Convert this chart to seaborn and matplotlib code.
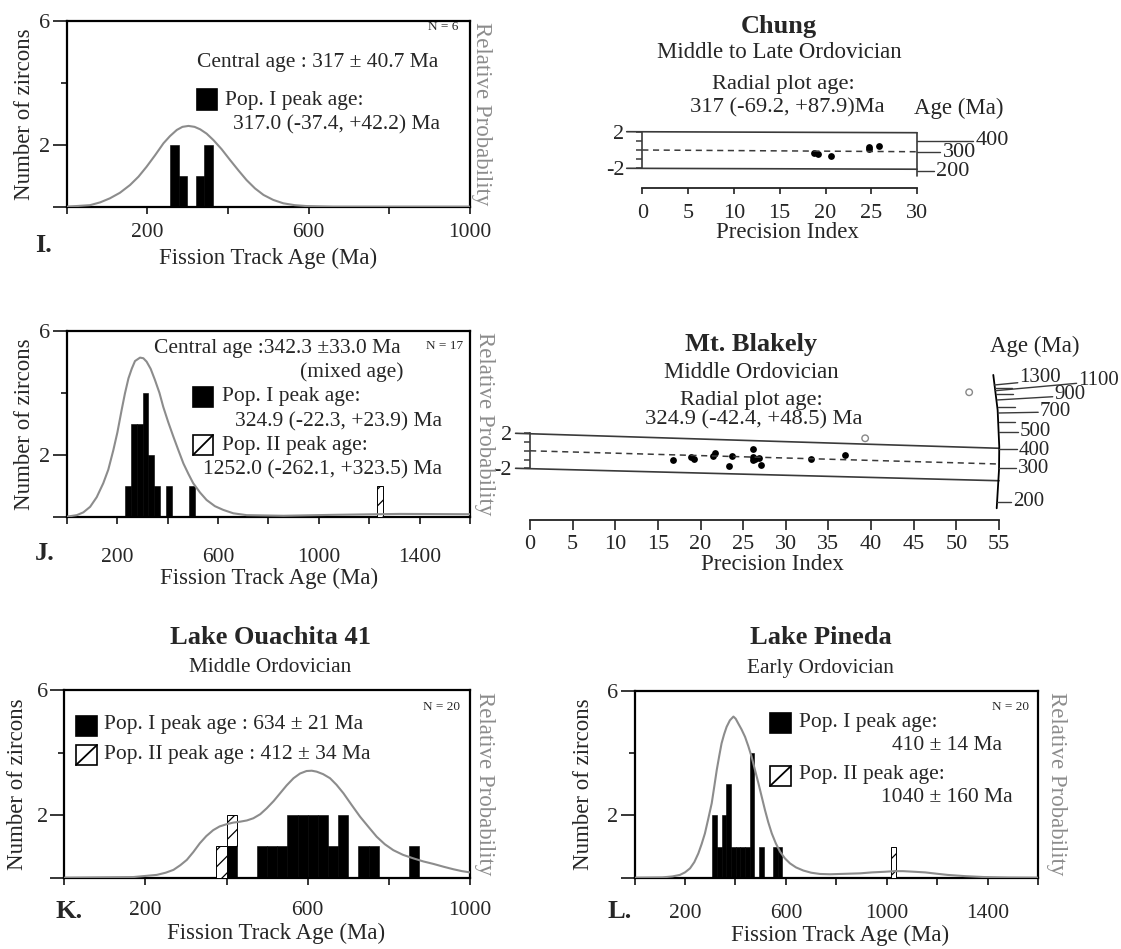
import numpy as np
import matplotlib
matplotlib.use("Agg")
import matplotlib.pyplot as plt
from matplotlib.patches import Rectangle
from matplotlib.lines import Line2D
import seaborn as sns

# ---------------- data ----------------
# Panel I  (Chung histogram)
I_edges = [257, 278, 299, 320, 341, 362]
I_counts = [2, 1, 0, 1, 2]
I_pdp_age = [0, 58, 83, 107, 132, 157, 178, 198, 219, 240, 256, 273, 287, 302, 317, 331, 347,
             364, 384, 405, 426, 446, 467, 488, 512, 537, 565, 595, 661, 1000]
I_pdp_val = [0, 0.05, 0.14, 0.27, 0.45, 0.70, 0.97, 1.29, 1.66, 2.05, 2.28, 2.48, 2.58, 2.61,
             2.58, 2.50, 2.36, 2.15, 1.86, 1.51, 1.17, 0.86, 0.59, 0.38, 0.22, 0.11, 0.05,
             0.02, 0, 0]

# Panel J  (Mt. Blakely histogram)
J_edges = [232, 255, 278, 301, 324, 347, 370, 393, 416, 439, 462, 485, 508]
J_counts = [1, 3, 3, 4, 2, 1, 0, 1, 0, 0, 0, 1]
J2_edges = [1233, 1256]
J2_counts = [1]
J2_bottom = [0]
J_pdp_age = [0, 40, 66, 93, 119, 145, 165, 185, 201, 218, 231, 245, 258, 271, 291, 304, 317,
             333, 350, 368, 383, 403, 423, 443, 463, 483, 502, 529, 555, 588, 621, 661, 714,
             860, 1058, 1322, 1600]
J_pdp_val = [0, 0.05, 0.14, 0.32, 0.63, 1.08, 1.52, 2.15, 2.72, 3.45, 3.98, 4.47, 4.78, 5.03,
             5.14, 5.12, 5.01, 4.78, 4.42, 4.00, 3.55, 3.05, 2.59, 2.15, 1.72, 1.38, 1.08, 0.78,
             0.54, 0.34, 0.22, 0.11, 0.05, 0.03, 0.06, 0.09, 0.08]

# Panel K  (Lake Ouachita 41 histogram)
K_edges = [375, 400, 425, 450, 475, 500, 525, 550, 575, 600, 625, 650, 675, 700, 725, 750, 775,
           800, 825, 850, 875]
K_counts = [0, 1, 0, 0, 1, 1, 1, 2, 2, 2, 2, 1, 2, 0, 1, 1, 0, 0, 0, 1]
K2_edges = [375, 400, 425]
K2_counts = [1, 1]
K2_bottom = [0, 1]
K_pdp_age = [0, 170, 228, 250, 269, 286, 302, 318, 334, 350, 367, 383, 400, 416, 433, 450, 466,
             483, 499, 516, 532, 548, 565, 581, 597, 610, 622, 638, 655, 671, 688, 708, 729,
             750, 770, 790, 811, 835, 860, 885, 910, 935, 959, 980, 1000]
K_pdp_val = [0, 0.02, 0.09, 0.16, 0.25, 0.40, 0.57, 0.82, 1.10, 1.33, 1.52, 1.64, 1.71, 1.76,
             1.79, 1.83, 1.90, 2.03, 2.22, 2.45, 2.70, 2.95, 3.18, 3.33, 3.41, 3.42, 3.39, 3.31,
             3.18, 2.97, 2.70, 2.33, 1.95, 1.62, 1.31, 1.07, 0.88, 0.73, 0.62, 0.52, 0.44, 0.35,
             0.27, 0.21, 0.17]

# Panel L  (Lake Pineda histogram)
L_edges = [308, 326.5, 345, 363.5, 382, 400.5, 419, 437.5, 456, 474.5, 493, 511.5, 530, 548.5,
           567, 585.5]
L_counts = [2, 1, 2, 3, 1, 1, 1, 1, 4, 0, 1, 0, 0, 1, 1]
L2_edges = [1017, 1038]
L2_counts = [1]
L2_bottom = [0]
L_pdp_age = [0, 110, 150, 180, 200, 220, 237, 253, 266, 279, 292, 306, 316, 326, 336, 345, 355,
             365, 378, 392, 401, 411, 424, 438, 451, 464, 477, 491, 504, 517, 530, 544, 560,
             577, 596, 616, 640, 669, 700, 735, 775, 814, 854, 894, 940, 991, 1030, 1064, 1110,
             1152, 1195, 1240, 1310, 1387, 1480, 1600]
L_pdp_val = [0, 0.01, 0.04, 0.09, 0.17, 0.30, 0.50, 0.78, 1.08, 1.42, 1.88, 2.39, 2.92, 3.46,
             3.92, 4.31, 4.60, 4.84, 5.05, 5.17, 5.10, 4.95, 4.76, 4.52, 4.22, 3.88, 3.47, 3.03,
             2.60, 2.17, 1.78, 1.42, 1.10, 0.83, 0.62, 0.46, 0.33, 0.23, 0.16, 0.12, 0.11, 0.12,
             0.13, 0.14, 0.17, 0.19, 0.21, 0.21, 0.19, 0.17, 0.13, 0.09, 0.05, 0.02, 0.005, 0]

# Radial plot: Chung
CH_prec = [18.7, 19.2, 20.6, 24.8, 24.8, 25.8]
CH_z = [-0.29, -0.47, -0.65, 0.36, 0.15, 0.44]
CH_top = ([-1.7, 30], [2.0, 1.89])
CH_bot = ([-1.7, 30], [-2.0, -2.1])
CH_mid = ([0, 30], [0.0, -0.19])
CH_arc = ([30, 30], [1.89, -2.84])
CH_tick_lab = ['400', '300', '200']
CH_tick_y = [1.02, -0.25, -2.3]
CH_tick_x1 = [36.1, 32.5, 31.8]

# Radial plot: Mt. Blakely
MB_prec = [16.8, 18.9, 19.2, 21.5, 21.7, 23.3, 23.7, 26.1, 26.1, 26.2, 26.4, 26.8, 27.1, 33.0, 36.9]
MB_z = [-1.0, -0.7, -0.95, -0.63, -0.22, -1.74, -0.57, 0.17, -0.7, -1.1, -0.95, -0.83, -1.58,
        -0.90, -0.51]
MB_open_prec = [39.3, 51.5]
MB_open_z = [1.43, 6.69]
MB_top = ([-1.7, 55], [2.0, 0.29])
MB_bot = ([-1.7, 55], [-2.0, -3.42])
MB_mid = ([0, 55], [0.0, -1.51])
MB_arc_x = [54.33, 54.84, 55.03, 55.0, 54.73]
MB_arc_y = [8.67, 4.66, 0.47, -2.19, -6.57]
MB_tick_age = ['1300', '', '1100', '', '900', '', '700', '', '500', '400', '300', '200']
MB_tick_x0 = [54.45, 54.55, 54.6, 54.7, 54.8, 54.85, 54.9, 54.95, 55.0, 55.03, 55.0, 54.75]
MB_tick_y0 = [7.52, 7.14, 6.87, 6.46, 5.81, 5.04, 4.32, 3.26, 2.18, 0.17, -2.0, -5.82]
MB_tick_x1 = [57.2, 56.5, 64.1, 56.7, 61.3, 56.9, 59.6, 56.9, 57.2, 57.1, 57.0, 56.4]
MB_tick_y1 = [7.78, 7.14, 7.71, 6.46, 6.18, 5.04, 4.40, 3.26, 2.18, 0.17, -2.0, -5.82]
MB_lab_y = [8.43, 0, 8.09, 0, 6.38, 0, 4.47, 0, 2.18, 0.09, -2.0, -5.82]

# ---------------- style ----------------
sns.set_style("ticks")
plt.rcParams['font.family'] = ['Liberation Serif', 'DejaVu Serif']
plt.rcParams['hatch.linewidth'] = 0.9

W, H = 1121, 949
fig = plt.figure(figsize=(W / 100, H / 100), dpi=100)

def rect(l, t, r, b):
    return [l / W, 1 - b / H, (r - l) / W, (b - t) / H]

def ftext(x, y, s, **kw):
    kw.setdefault('va', 'center')
    fig.text(x / W, 1 - y / H, s, **kw)

def square(l, t, r, b, hatched=False):
    fig.add_artist(Rectangle((l / W, 1 - b / H), (r - l) / W, (b - t) / H,
                             transform=fig.transFigure,
                             facecolor='white' if hatched else 'black',
                             edgecolor='black', linewidth=1.2))
    if hatched:
        fig.add_artist(Line2D([l / W, r / W], [1 - b / H, 1 - t / H],
                              transform=fig.transFigure, color='black', linewidth=1.3))

GRAY = '#8c8c8c'
TXT = 15.5

def hist_panel(box, edges, counts, pdp_age, pdp_val, xmax, xlabs, pad,
               h_edges=None, h_counts=None, h_bottom=None):
    ax = fig.add_axes(rect(*box))
    centers = [(a + b) / 2 for a, b in zip(edges[:-1], edges[1:])]
    sns.histplot(x=centers, weights=counts, bins=edges, color='black',
                 edgecolor='black', linewidth=0.4, alpha=1, ax=ax)
    if h_edges is not None:
        ax.bar(h_edges[:-1], h_counts, width=np.diff(h_edges), bottom=h_bottom,
               align='edge', facecolor='white', edgecolor='black', hatch='//',
               linewidth=0.7, zorder=3)
    sns.lineplot(x=pdp_age, y=pdp_val, color=GRAY, linewidth=1.5, ax=ax, zorder=4)
    ax.set_xlim(0, xmax)
    ax.set_ylim(0, 6)
    ticks = list(range(0, xmax + 1, 200))
    ax.set_xticks(ticks)
    ax.set_xticklabels([str(t) if t in xlabs else '' for t in ticks])
    ax.set_yticks([0, 2, 6])
    ax.set_yticklabels(['', '2', '6'])
    ax.set_yticks([4], minor=True)
    ax.tick_params(axis='x', direction='out', length=5, width=1.3, labelsize=TXT, pad=pad)
    ax.tick_params(axis='y', which='major', direction='out', length=10, width=1.3,
                   labelsize=16, pad=2)
    ax.tick_params(axis='y', which='minor', direction='out', length=4, width=1.3)
    ax.set_xlabel('')
    ax.set_ylabel('')
    for s in ax.spines.values():
        s.set_visible(True)
        s.set_linewidth(1.6)
        s.set_color('black')
    return ax

# ---------- Panel I ----------
hist_panel((66.7, 21, 470, 206.7), I_edges, I_counts, I_pdp_age, I_pdp_val, 1000,
           [200, 600, 1000], 6.5)
ftext(458, 27, 'N = 6', ha='right', fontsize=9.5)
ftext(197, 63, 'Central age : 317 ± 40.7 Ma', ha='left', fontsize=TXT)
square(197, 89, 217, 110)
ftext(225, 100, 'Pop. I peak age:', ha='left', fontsize=TXT)
ftext(233, 125, '317.0 (-37.4, +42.2) Ma', ha='left', fontsize=TXT)
ftext(25, 114, 'Number of zircons', rotation=90, ha='center', fontsize=16.5)
ftext(482, 114, 'Relative Probability', rotation=270, ha='center', fontsize=16.5, color=GRAY)
ftext(268, 258, 'Fission Track Age (Ma)', ha='center', fontsize=16.5)
ftext(35, 246, 'I.', ha='left', fontsize=19, fontweight='bold')

# ---------- Panel J ----------
hist_panel((66.7, 331, 470, 516.7), J_edges, J_counts, J_pdp_age, J_pdp_val, 1600,
           [200, 600, 1000, 1400], 17.5, J2_edges, J2_counts, J2_bottom)
ftext(463, 346, 'N = 17', ha='right', fontsize=9.5)
ftext(154, 348, 'Central age :342.3 ±33.0 Ma', ha='left', fontsize=TXT)
ftext(300, 372, '(mixed age)', ha='left', fontsize=TXT)
square(193, 387, 213, 407)
ftext(222, 397, 'Pop. I peak age:', ha='left', fontsize=TXT)
ftext(235, 422, '324.9 (-22.3, +23.9) Ma', ha='left', fontsize=TXT)
square(193, 435, 213, 455, hatched=True)
ftext(222, 445, 'Pop. II peak age:', ha='left', fontsize=TXT)
ftext(203, 470, '1252.0 (-262.1, +323.5) Ma', ha='left', fontsize=TXT)
ftext(25, 424, 'Number of zircons', rotation=90, ha='center', fontsize=16.5)
ftext(485, 424, 'Relative Probability', rotation=270, ha='center', fontsize=16.5, color=GRAY)
ftext(269, 578, 'Fission Track Age (Ma)', ha='center', fontsize=16.5)
ftext(35, 554, 'J.', ha='left', fontsize=19, fontweight='bold')

# ---------- Panel K ----------
hist_panel((64.3, 690, 470, 877.7), K_edges, K_counts, K_pdp_age, K_pdp_val, 1000,
           [200, 600, 1000], 12, K2_edges, K2_counts, K2_bottom)
ftext(460, 707, 'N = 20', ha='right', fontsize=9.5)
square(76, 716, 97, 736)
ftext(104, 725, 'Pop. I peak age : 634 ± 21 Ma', ha='left', fontsize=TXT)
square(76, 745, 97, 765, hatched=True)
ftext(104, 755, 'Pop. II peak age : 412 ± 34 Ma', ha='left', fontsize=TXT)
ftext(270, 637, 'Lake Ouachita 41', ha='center', fontsize=19, fontweight='bold')
ftext(270, 667, 'Middle Ordovician', ha='center', fontsize=15.3)
ftext(18, 784, 'Number of zircons', rotation=90, ha='center', fontsize=16.5)
ftext(484, 784, 'Relative Probability', rotation=270, ha='center', fontsize=16.5, color=GRAY)
ftext(276, 933, 'Fission Track Age (Ma)', ha='center', fontsize=16.5)
ftext(55, 911, 'K.', ha='left', fontsize=19, fontweight='bold')

# ---------- Panel L ----------
hist_panel((634.5, 690.7, 1038.3, 877.7), L_edges, L_counts, L_pdp_age, L_pdp_val, 1600,
           [200, 600, 1000, 1400], 14, L2_edges, L2_counts, L2_bottom)
ftext(1029, 707, 'N = 20', ha='right', fontsize=9.5)
square(770, 713, 791, 733)
ftext(798.6, 722, 'Pop. I peak age:', ha='left', fontsize=TXT)
ftext(892, 745, '410 ± 14 Ma', ha='left', fontsize=TXT)
square(770, 766, 791, 786, hatched=True)
ftext(798.6, 775, 'Pop. II peak age:', ha='left', fontsize=TXT)
ftext(881, 798, '1040 ± 160 Ma', ha='left', fontsize=TXT)
ftext(820.7, 637, 'Lake Pineda', ha='center', fontsize=19, fontweight='bold')
ftext(820.7, 668, 'Early Ordovician', ha='center', fontsize=15.3)
ftext(583.6, 784, 'Number of zircons', rotation=90, ha='center', fontsize=16.5)
ftext(1056, 784, 'Relative Probability', rotation=270, ha='center', fontsize=16.5, color=GRAY)
ftext(840, 935, 'Fission Track Age (Ma)', ha='center', fontsize=16.5)
ftext(608, 911, 'L.', ha='left', fontsize=19, fontweight='bold')

# ---------- radial plots ----------
LINE = '#3a3a3a'

def radial_axes(box, xmax, outward_pt, ticklen, tpad, fs):
    ax = fig.add_axes(rect(*box))
    ax.set_xlim(0, xmax)
    ax.set_ylim(-2, 2)
    ax.patch.set_alpha(0)
    ax.spines['top'].set_visible(False)
    ax.spines['right'].set_visible(False)
    ax.spines['bottom'].set_position(('outward', outward_pt))
    ax.spines['bottom'].set_bounds(0, xmax)
    ax.spines['bottom'].set_linewidth(1.3)
    ax.spines['bottom'].set_color('#222222')
    ax.spines['left'].set_bounds(-2, 2)
    ax.spines['left'].set_linewidth(1.2)
    ax.spines['left'].set_color(LINE)
    ax.set_xticks(list(range(0, xmax + 1, 5)))
    ax.tick_params(axis='x', direction='out', length=ticklen, width=1.2,
                   labelsize=16, pad=tpad, color='#222222')
    ax.set_yticks([-2, -1, 0, 1, 2])
    ax.set_yticklabels(['-2', '', '', '', '2'])
    ax.tick_params(axis='y', direction='out', length=4, width=1.1, labelsize=fs,
                   pad=9, color=LINE)
    return ax

# Chung
axc = radial_axes((642.3, 131.7, 917.1, 168.3), 30, 14.4, 4.5, 6.5, 16)
for xs, ys in (CH_top, CH_bot, CH_arc):
    axc.plot(xs, ys, color=LINE, linewidth=1.2, clip_on=False)
axc.plot(*CH_mid, color=LINE, linewidth=1.1, linestyle=(0, (4, 3)), clip_on=False)
for lab, y, x1 in zip(CH_tick_lab, CH_tick_y, CH_tick_x1):
    axc.plot([30, x1], [y, y], color=LINE, linewidth=1.0, clip_on=False)
    axc.text(x1 + 0.3, y, lab, ha='left', va='center', fontsize=16, clip_on=False)
sns.scatterplot(x=CH_prec, y=CH_z, color='black', s=24, linewidth=0, ax=axc, clip_on=False)
axc.set_xlabel('')
axc.set_ylabel('')
ftext(779, 27, 'Chung', ha='center', fontsize=19, fontweight='bold')
ftext(779, 53, 'Middle to Late Ordovician', ha='center', fontsize=16.5)
ftext(783.6, 85, 'Radial plot age:', ha='center', fontsize=16.2)
ftext(787, 108, '317 (-69.2, +87.9)Ma', ha='center', fontsize=16.2)
ftext(914, 108, 'Age (Ma)', ha='left', fontsize=16.5)
ftext(787, 233, 'Precision Index', ha='center', fontsize=16.5)

# Mt. Blakely
axm = radial_axes((530.1, 433.3, 999, 468.3), 55, 37.2, 7, 3.5, 16)
for xs, ys in (MB_top, MB_bot):
    axm.plot(xs, ys, color=LINE, linewidth=1.2, clip_on=False)
axm.plot(MB_arc_x, MB_arc_y, color='black', linewidth=1.3, clip_on=False)
axm.plot(*MB_mid, color=LINE, linewidth=1.1, linestyle=(0, (4, 3)), clip_on=False)
for lab, x0, y0, x1, y1, ly in zip(MB_tick_age, MB_tick_x0, MB_tick_y0, MB_tick_x1,
                                   MB_tick_y1, MB_lab_y):
    axm.plot([x0, x1], [y0, y1], color=LINE, linewidth=1.0, clip_on=False)
    if lab:
        axm.text(x1 + 0.2, ly, lab, ha='left', va='center', fontsize=15, clip_on=False)
sns.scatterplot(x=MB_prec, y=MB_z, color='black', s=24, linewidth=0, ax=axm, clip_on=False)
axm.scatter(MB_open_prec, MB_open_z, s=22, facecolors='none', edgecolors='#888888',
            linewidths=1.0, clip_on=False)
axm.set_xlabel('')
axm.set_ylabel('')
ftext(751, 345, 'Mt. Blakely', ha='center', fontsize=19, fontweight='bold')
ftext(751.5, 372, 'Middle Ordovician', ha='center', fontsize=16.5)
ftext(751, 400, 'Radial plot age:', ha='center', fontsize=16.2)
ftext(753.5, 420, '324.9 (-42.4, +48.5) Ma', ha='center', fontsize=16.2)
ftext(990, 346, 'Age (Ma)', ha='left', fontsize=16.5)
ftext(772, 565, 'Precision Index', ha='center', fontsize=16.5)

fig.savefig('out.png', dpi=100, facecolor='white')
